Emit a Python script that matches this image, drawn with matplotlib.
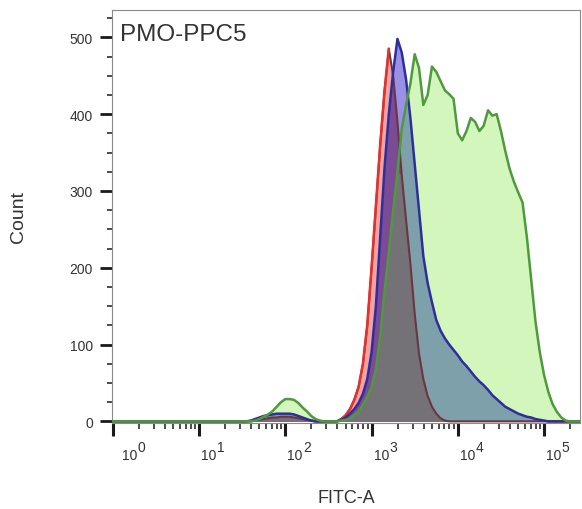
import numpy as np
import matplotlib
matplotlib.use('Agg')
import matplotlib.pyplot as plt
from matplotlib.ticker import FixedLocator, LogLocator, MultipleLocator, NullFormatter
from matplotlib.transforms import blended_transform_factory, offset_copy

# ---------------- data (histogram channels, log10 of FITC-A) ----------------
fitc_log10 = [-0.05,
              1.50, 1.55, 1.60, 1.65, 1.70, 1.75, 1.80, 1.85, 1.90, 1.95,
              2.00, 2.05, 2.10, 2.15, 2.20, 2.25, 2.30, 2.35, 2.40, 2.45,
              2.50, 2.55, 2.60, 2.65, 2.70, 2.75, 2.80, 2.85, 2.90, 2.95,
              3.00, 3.05, 3.10, 3.15, 3.20, 3.25, 3.30, 3.35, 3.40, 3.45,
              3.50, 3.55, 3.60, 3.65, 3.70, 3.75, 3.80, 3.85, 3.90, 3.95,
              4.00, 4.05, 4.10, 4.15, 4.20, 4.25, 4.30, 4.35, 4.40, 4.45,
              4.50, 4.55, 4.60, 4.65, 4.70, 4.75, 4.80, 4.85, 4.90, 4.95,
              5.00, 5.05, 5.10, 5.15, 5.20, 5.25, 5.30,
              5.45]

count_red = [0,
             0, 0, 0, 1, 2, 3, 4, 5, 5, 6,
             6, 6, 5, 4, 3, 2, 1, 0, 0, 0,
             0, 0, 0, 3, 8, 16, 28, 45, 75, 125,
             200, 280, 360, 430, 485, 450, 390, 320, 262, 205,
             140, 88, 55, 33, 19, 10, 4, 1, 0, 0,
             0, 0, 0, 0, 0, 0, 0, 0, 0, 0,
             0, 0, 0, 0, 0, 0, 0, 0, 0, 0,
             0, 0, 0, 0, 0, 0, 0,
             0]

count_blue = [0,
              0, 0, 1, 3, 5, 7, 8, 9, 10, 10,
              10, 10, 9, 7, 5, 3, 1, 0, 0, 0,
              0, 0, 0, 2, 5, 10, 16, 24, 36, 55,
              90, 150, 240, 330, 400, 455, 498, 480, 445, 395,
              335, 275, 215, 180, 155, 132, 118, 108, 100, 93,
              86, 78, 72, 65, 58, 52, 47, 41, 34, 29,
              24, 19, 16, 13, 10, 8, 6, 5, 3, 2,
              1, 0, 0, 0, 0, 0, 0,
              0]

count_green = [0,
               0, 0, 0, 1, 3, 6, 9, 13, 19, 25,
               29, 29, 28, 24, 18, 13, 7, 3, 1, 0,
               0, 0, 0, 1, 2, 4, 8, 13, 22, 32,
               45, 68, 110, 170, 220, 275, 325, 381, 412, 440,
               478, 460, 412, 425, 462, 455, 443, 431, 426, 420,
               375, 366, 378, 395, 390, 378, 385, 405, 398, 400,
               378, 352, 329, 312, 298, 285, 240, 185, 130, 90,
               60, 38, 22, 12, 5, 1, 0,
               0]

x_decades = [0, 1, 2, 3, 4, 5]
y_ticks = [0, 100, 200, 300, 400, 500]
sample_name = "PMO-PPC5"
x_label = "FITC-A"
y_label = "Count"

# ---------------- style ----------------
plt.rcParams['font.family'] = ['Liberation Sans', 'DejaVu Sans']

light_green = '#d2f6bb'
lavender = '#9a90e6'
teal = '#7ea0ab'
pink = '#f2a3a3'
purple = '#7b4b94'
grey = '#747276'
red_line = '#e8302a'
brown_line = '#6b3640'
blue_line = '#2e2e9c'
green_line = '#4e9a3c'
text_col = '#333333'
tick_col = '#1a1a1a'

x = 10 ** np.array(fitc_log10)
r = np.array(count_red, dtype=float)
b = np.array(count_blue, dtype=float)
g = np.array(count_green, dtype=float)

fig = plt.figure(figsize=(5.82, 5.10), dpi=100)
ax = fig.add_axes([0.192, 0.1696, 0.8047, 0.8094])

# overlapping filled histograms (overlap regions get blended colours)
ax.fill_between(x, 0, g, color=light_green, lw=0, zorder=1)
ax.fill_between(x, 0, b, color=lavender, lw=0, zorder=2)
ax.fill_between(x, 0, np.minimum(b, g), color=teal, lw=0, zorder=3)
ax.fill_between(x, 0, r, color=pink, lw=0, zorder=4)
ax.fill_between(x, 0, np.minimum(r, b), color=purple, lw=0, zorder=5)
ax.fill_between(x, 0, np.minimum(np.minimum(r, b), g), color=grey, lw=0, zorder=6)

ax.plot(x, r, color=brown_line, lw=1.5, zorder=7)
ax.plot(x, np.ma.masked_where(r < b, r), color=red_line, lw=1.8, zorder=7.5)
ax.plot(x, b, color=blue_line, lw=1.8, zorder=8)
ax.plot(x, g, color=green_line, lw=1.8, zorder=9)

ax.set_xscale('log')
ax.set_xlim(10 ** -0.012, 10 ** 5.417)
ax.set_ylim(-1.5, 536)

for s in ax.spines.values():
    s.set_color('#8a8a8a')
    s.set_linewidth(0.8)

ax.xaxis.set_major_locator(FixedLocator([10.0 ** k for k in x_decades]))
ax.set_xticklabels([])
ax.xaxis.set_minor_locator(LogLocator(base=10, subs=range(2, 10), numticks=20))
ax.xaxis.set_minor_formatter(NullFormatter())
ax.yaxis.set_major_locator(FixedLocator(y_ticks))
ax.yaxis.set_minor_locator(MultipleLocator(25))

ax.tick_params(axis='x', which='major', direction='out', length=9.4, width=2.2,
               color=tick_col, pad=3)
ax.tick_params(axis='x', which='minor', direction='out', length=4, width=1.1, color=tick_col)
ax.tick_params(axis='y', which='major', direction='out', length=8.6, width=2.0,
               color=tick_col, pad=5, labelsize=10, labelcolor=text_col)
ax.tick_params(axis='y', which='minor', direction='out', length=3.6, width=1.1, color=tick_col)

# decade labels "10" with a raised exponent of almost the same size
base_tr = blended_transform_factory(ax.transData, ax.transAxes)
for k in x_decades:
    dx = 9 if k == 0 else 2
    tr_base = offset_copy(base_tr, fig=fig, x=dx, y=-36, units='dots')
    tr_exp = offset_copy(base_tr, fig=fig, x=dx + 15.5, y=-28, units='dots')
    ax.text(10.0 ** k, 0, '10', transform=tr_base, ha='left', va='baseline',
            fontsize=10, color=text_col)
    ax.text(10.0 ** k, 0, str(k), transform=tr_exp, ha='left', va='baseline',
            fontsize=10, color=text_col)

ax.set_xlabel(x_label, fontsize=13, color=text_col)
ax.xaxis.set_label_coords(0.5, -0.16)
ax.set_ylabel(y_label, fontsize=14, color=text_col)
ax.yaxis.set_label_coords(-0.18, 0.5)

ax.text(0.018, 0.927, sample_name, transform=ax.transAxes, fontsize=17.5,
        color=text_col, ha='left', va='baseline', zorder=10)

fig.savefig('out.png', dpi=100)
